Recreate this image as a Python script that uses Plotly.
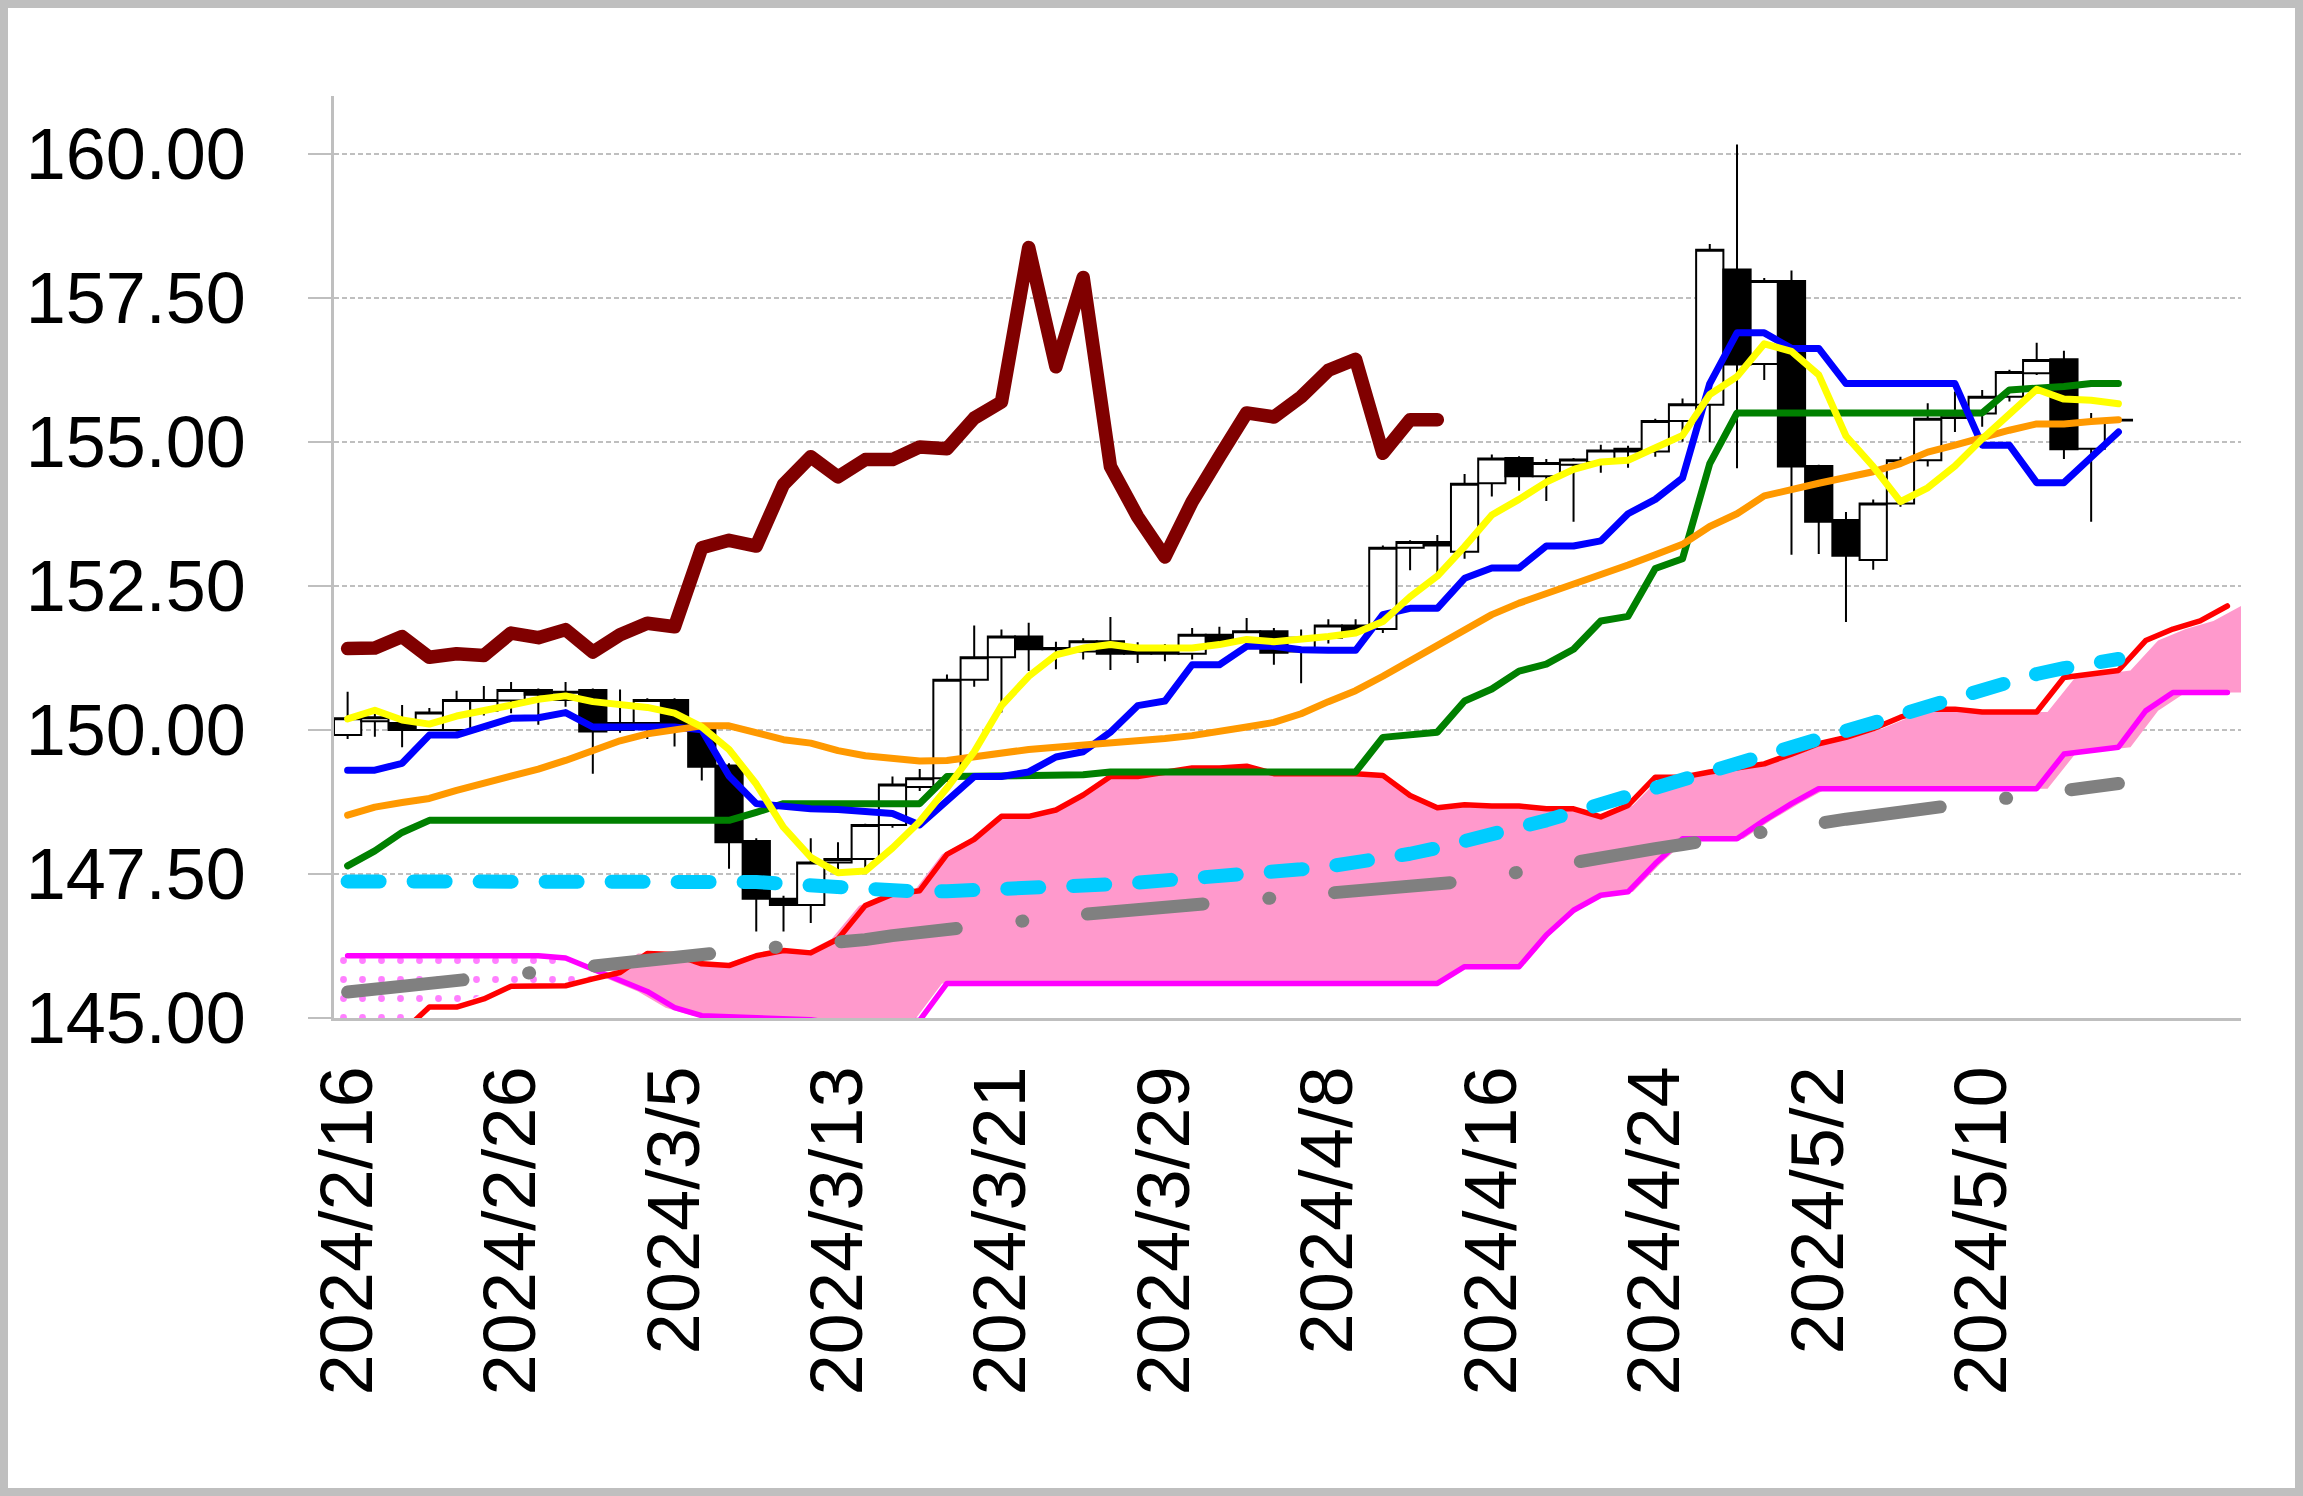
import plotly.graph_objects as go

# ---------------- data ----------------
tick_labels = ["2024/2/16", "2024/2/26", "2024/3/5", "2024/3/13", "2024/3/21", "2024/3/29",
               "2024/4/8", "2024/4/16", "2024/4/24", "2024/5/2", "2024/5/10"]

open_ = [149.91, 150.15, 150.12, 150.00, 150.00, 150.33, 150.51, 150.69, 150.52, 150.69,
         150.00, 150.12, 150.52, 150.09, 149.38, 148.07, 147.07, 146.96, 147.70, 147.76,
         148.35, 149.01, 149.16, 150.87, 151.26, 151.62, 151.40, 151.36, 151.54, 151.42,
         151.32, 151.32, 151.65, 151.53, 151.71, 151.36, 151.60, 151.81, 151.75, 153.16,
         153.26, 153.09, 154.28, 154.72, 154.40, 154.60, 154.65, 154.83, 154.83, 155.36,
         155.64, 157.99, 156.35, 157.79, 154.58, 153.64, 152.95, 153.93, 154.68, 155.41,
         155.49, 155.78, 156.19, 156.43, 154.88, 155.37]
high = [150.66, 150.36, 150.43, 150.38, 150.68, 150.76, 150.83, 150.72, 150.83, 150.72,
        150.70, 150.55, 150.55, 150.12, 149.42, 148.12, 147.12, 148.12, 148.05, 148.37,
        149.19, 149.32, 150.96, 151.81, 151.74, 151.86, 151.53, 151.59, 151.96, 151.52,
        151.49, 151.77, 151.79, 151.94, 151.77, 151.74, 151.92, 151.92, 153.20, 153.29,
        153.38, 154.44, 154.78, 154.75, 154.70, 154.72, 154.95, 154.93, 155.40, 155.75,
        158.43, 160.16, 157.84, 157.97, 154.60, 153.78, 154.00, 154.74, 155.67, 155.87,
        155.90, 156.25, 156.72, 156.58, 155.50, 155.40]
low = [149.84, 149.88, 149.70, 149.98, 149.97, 150.25, 150.29, 150.09, 150.40, 149.24,
       149.95, 149.84, 149.71, 149.12, 147.59, 146.50, 146.50, 146.65, 147.50, 147.60,
       148.30, 148.94, 149.10, 150.75, 150.30, 151.02, 151.05, 151.22, 151.04, 151.16,
       151.19, 151.22, 151.45, 151.48, 151.13, 150.81, 151.50, 151.68, 151.68, 152.77,
       152.71, 152.97, 154.05, 154.15, 153.97, 153.61, 154.46, 154.55, 154.74, 155.00,
       154.99, 154.54, 156.07, 153.04, 153.05, 151.87, 152.78, 153.87, 154.57, 155.17,
       155.26, 155.70, 156.16, 154.70, 153.61, 155.36]
close = [150.20, 150.22, 150.00, 150.30, 150.52, 150.52, 150.69, 150.61, 150.66, 149.97,
         150.12, 150.52, 150.09, 149.36, 148.05, 147.07, 146.96, 147.70, 147.76, 148.35,
         149.05, 149.16, 150.87, 151.26, 151.62, 151.40, 151.42, 151.54, 151.32, 151.32,
         151.35, 151.65, 151.53, 151.71, 151.34, 151.60, 151.81, 151.72, 153.16, 153.26,
         153.20, 154.27, 154.71, 154.40, 154.63, 154.69, 154.85, 154.88, 155.36, 155.65,
         158.33, 156.34, 157.79, 154.57, 153.61, 153.02, 153.93, 154.68, 155.40, 155.47,
         155.78, 156.21, 156.42, 154.87, 155.37, 155.38]

tenkan = [149.30, 149.30, 149.42, 149.91, 149.91, 150.07, 150.20, 150.21, 150.30, 150.05,
          150.05, 150.05, 150.05, 150.00, 149.20, 148.72, 148.67, 148.63, 148.62, 148.57,
          148.55, 148.35, 148.76, 149.19, 149.19, 149.27, 149.53, 149.62, 149.96, 150.42,
          150.50, 151.13, 151.13, 151.45, 151.45, 151.39, 151.38, 151.38, 152.00, 152.11,
          152.11, 152.63, 152.81, 152.81, 153.19, 153.19, 153.28, 153.75, 154.00, 154.37,
          156.01, 156.89, 156.89, 156.62, 156.62, 156.01, 156.01, 156.01, 156.01, 156.01,
          154.94, 154.94, 154.29, 154.29, 154.73, 155.17]
kijun = [147.64, 147.90, 148.22, 148.43, 148.43, 148.43, 148.43, 148.43, 148.43, 148.43,
         148.43, 148.43, 148.43, 148.43, 148.43, 148.57, 148.72, 148.72, 148.72, 148.72,
         148.72, 148.72, 149.19, 149.19, 149.19, 149.19, 149.19, 149.22, 149.27, 149.27,
         149.27, 149.27, 149.27, 149.27, 149.27, 149.27, 149.27, 149.27, 149.87, 149.92,
         149.96, 150.50, 150.71, 151.02, 151.14, 151.40, 151.89, 151.97, 152.80, 152.97,
         154.62, 155.50, 155.50, 155.50, 155.50, 155.50, 155.50, 155.50, 155.50, 155.50,
         155.50, 155.90, 155.92, 155.96, 156.01, 156.01]
ma_short = [150.19, 150.34, 150.17, 150.10, 150.24, 150.32, 150.43, 150.53, 150.59, 150.49,
            150.43, 150.39, 150.29, 150.05, 149.66, 149.06, 148.31, 147.79, 147.52, 147.55,
            147.95, 148.41, 148.99, 149.62, 150.42, 150.93, 151.30, 151.42, 151.48, 151.42,
            151.42, 151.42, 151.48, 151.57, 151.53, 151.56, 151.62, 151.68, 151.88, 152.31,
            152.67, 153.18, 153.73, 154.00, 154.30, 154.52, 154.65, 154.68, 154.89, 155.11,
            155.82, 156.13, 156.70, 156.57, 156.16, 155.10, 154.57, 153.96, 154.20, 154.58,
            155.05, 155.50, 155.91, 155.74, 155.72, 155.66]
ma_mid = [148.52, 148.66, 148.74, 148.81, 148.95, 149.07, 149.18, 149.32, 149.47, 149.64,
          149.81, 149.93, 150.00, 150.07, 150.07, 149.96, 149.83, 149.77, 149.64, 149.55,
          149.50, 149.46, 149.47, 149.53, 149.62, 149.66, 149.70, 149.73, 149.77, 149.80,
          149.85, 149.90, 149.96, 150.05, 150.13, 150.28, 150.49, 150.68, 150.93, 151.19,
          151.45, 151.71, 152.00, 152.20, 152.36, 152.51, 152.70, 152.86, 153.04, 153.22,
          153.53, 153.75, 154.06, 154.18, 154.28, 154.38, 154.48, 154.62, 154.82, 154.94,
          155.08, 155.20, 155.31, 155.31, 155.35, 155.38]
ma_long = [147.37, 147.37, 147.38, 147.38, 147.40, 147.41, 147.42, 147.42, 147.42, 147.42,
           147.42, 147.42, 147.40, 147.38, 147.37, 147.36, 147.33, 147.29, 147.25, 147.22,
           147.21, 147.19, 147.20, 147.21, 147.23, 147.24, 147.26, 147.28, 147.32, 147.35,
           147.38, 147.42, 147.46, 147.50, 147.54, 147.58, 147.63, 147.69, 147.76, 147.85,
           147.95, 148.06, 148.18, 148.30, 148.43, 148.57, 148.71, 148.86, 149.00, 149.12,
           149.27, 149.42, 149.57, 149.72, 149.87, 150.02, 150.16, 150.30, 150.44, 150.58,
           150.72, 150.85, 150.97, 151.07, 151.16, 151.23]
ma_longest = [145.45, 145.50, 145.55, 145.60, 145.65, 145.70, 145.75, 145.80, 145.88, 145.95,
              146.00, 146.05, 146.10, 146.13, 146.17, 146.20, 146.24, 146.27, 146.30, 146.36,
              146.43, 146.49, 146.55, 146.60, 146.65, 146.69, 146.75, 146.80, 146.84, 146.88,
              146.92, 146.96, 146.99, 147.03, 147.06, 147.10, 147.14, 147.19, 147.24, 147.28,
              147.33, 147.37, 147.45, 147.54, 147.62, 147.69, 147.77, 147.86, 147.94, 148.01,
              148.09, 148.18, 148.26, 148.32, 148.38, 148.45, 148.51, 148.57, 148.63, 148.69,
              148.75, 148.82, 148.90, 148.96, 149.02, 149.07]
chikou = [151.41, 151.42, 151.62, 151.26, 151.32, 151.29, 151.68, 151.60, 151.74, 151.35,
          151.65, 151.85, 151.79, 153.16, 153.29, 153.19, 154.26, 154.74, 154.39, 154.69,
          154.69, 154.91, 154.88, 155.41, 155.69, 158.37, 156.30, 157.85, 154.57, 153.70,
          153.00, 153.96, 154.74, 155.50, 155.43, 155.78, 156.24, 156.43, 154.80, 155.38,
          155.38]
senkou_a = [144.30, 144.50, 144.75, 145.19, 145.19, 145.33, 145.55, 145.55, 145.56, 145.68,
            145.79, 146.12, 146.10, 145.94, 145.91, 146.08, 146.17, 146.13, 146.37, 146.95,
            147.15, 147.21, 147.84, 148.10, 148.50, 148.50, 148.61, 148.87, 149.19, 149.19,
            149.27, 149.34, 149.34, 149.37, 149.24, 149.24, 149.24, 149.24, 149.21, 148.86,
            148.65, 148.70, 148.68, 148.68, 148.63, 148.63, 148.49, 148.69, 149.18, 149.18,
            149.27, 149.33, 149.41, 149.58, 149.76, 149.87, 150.02, 150.22, 150.36, 150.36,
            150.31, 150.31, 150.31, 150.91, 150.97, 151.03, 151.55, 151.75, 151.89, 152.15]
senkou_b = [146.08, 146.08, 146.08, 146.08, 146.08, 146.08, 146.08, 146.08, 146.04, 145.85,
            145.66, 145.46, 145.18, 145.04, 145.02, 145.00, 145.00, 144.97, 144.90, 144.90,
            144.92, 144.96, 145.60, 145.60, 145.60, 145.60, 145.60, 145.60, 145.60, 145.60,
            145.60, 145.60, 145.60, 145.60, 145.60, 145.60, 145.60, 145.60, 145.60, 145.60,
            145.60, 145.89, 145.89, 145.89, 146.44, 146.87, 147.13, 147.19, 147.68, 148.11,
            148.11, 148.11, 148.43, 148.72, 148.98, 148.98, 148.98, 148.98, 148.98, 148.98,
            148.98, 148.98, 148.98, 149.58, 149.64, 149.70, 150.33, 150.65, 150.65, 150.65]

n_cat = len(senkou_a)
idx_price = list(range(len(close)))
idx_chikou = list(range(len(chikou)))
idx_cloud = list(range(n_cat))
# the cloud areas are stretched edge-to-edge across the category axis (as in the source chart)
idx_area = [-0.5 + k * n_cat / (n_cat - 1) for k in range(n_cat)]

# ---------------- cloud polygons ----------------
def cloud_polys(xs, a, b):
    polys = []
    top, bot = [], []
    sign = None
    for k in range(len(xs)):
        d = a[k] - b[k]
        s = d >= 0
        if k > 0 and s != sign:
            dp = a[k - 1] - b[k - 1]
            t = dp / (dp - d)
            xc = xs[k - 1] + t * (xs[k] - xs[k - 1])
            yc = a[k - 1] + t * (a[k] - a[k - 1])
            top.append((xc, yc)); bot.append((xc, yc))
            polys.append((sign, top, bot))
            top, bot = [(xc, yc)], [(xc, yc)]
        sign = s
        top.append((xs[k], a[k])); bot.append((xs[k], b[k]))
    polys.append((sign, top, bot))
    return polys

fig = go.Figure()

for sign, top, bot in cloud_polys(idx_area, senkou_a, senkou_b):
    pts = top + bot[::-1]
    px = [p[0] for p in pts] + [pts[0][0]]
    py = [p[1] for p in pts] + [pts[0][1]]
    if sign:
        fig.add_trace(go.Scatter(x=px, y=py, mode="lines", fill="toself",
                                 fillcolor="#FF99CC", line=dict(width=0),
                                 hoverinfo="skip"))
    else:
        fig.add_trace(go.Scatter(x=px, y=py, mode="lines", fill="toself",
                                 fillcolor="white", line=dict(width=0),
                                 fillpattern=dict(shape=".", fgcolor="#FF00FF", bgcolor="white",
                                                  size=19, solidity=0.1),
                                 hoverinfo="skip"))

fig.add_trace(go.Candlestick(
    x=idx_price, open=open_, high=high, low=low, close=close,
    increasing=dict(fillcolor="white", line=dict(color="black", width=2)),
    decreasing=dict(fillcolor="black", line=dict(color="black", width=2)),
    whiskerwidth=0))

def line(x, y, color, width, dash=None):
    fig.add_trace(go.Scatter(x=x, y=y, mode="lines",
                             line=dict(color=color, width=width, dash=dash)))

line(idx_cloud, senkou_b, "#FF00FF", 5.5)
line(idx_cloud, senkou_a, "#FF0000", 5.5)
line(idx_price, kijun, "#008000", 7)
line(idx_price, tenkan, "#0000FF", 7)
line(idx_price, ma_mid, "#FF9900", 7)
line(idx_price, ma_short, "#FFFF00", 7)
line(idx_chikou, chikou, "#800000", 13.5)
line(idx_price, ma_longest, "#808080", 13, "116px,66px,1px,65px")
line(idx_price, ma_long, "#00CCFF", 14, "32px,34px")

# ---------------- layout ----------------
L, R, T, B = 334, 62, 96, 478
W, H = 2303, 1496
pw, ph = W - L - R, H - T - B

fig.update_layout(
    width=W, height=H,
    margin=dict(l=L, r=R, t=T, b=B, pad=0),
    paper_bgcolor="white", plot_bgcolor="white",
    showlegend=False,
    boxgap=0, boxgroupgap=0,
    font=dict(family="Liberation Sans", color="black"),
    xaxis=dict(
        range=[-0.5, n_cat - 0.5],
        tickmode="array",
        tickvals=[6 * k for k in range(len(tick_labels))],
        ticktext=tick_labels,
        tickangle=-90,
        tickfont=dict(size=74, family="Liberation Sans", color="black"),
        ticks="", showgrid=False, zeroline=False,
        showline=True, linecolor="#BFBFBF", linewidth=2.5,
        rangeslider=dict(visible=False),
        ticklabelstandoff=16,
    ),
    yaxis=dict(
        range=[145, 161],
        tickmode="array",
        tickvals=[145, 147.5, 150, 152.5, 155, 157.5, 160],
        tickformat=".2f",
        tickfont=dict(size=72, family="Liberation Sans", color="black"),
        ticks="outside", ticklen=23, tickwidth=2, tickcolor="#BFBFBF",
        showgrid=True, gridcolor="#BFBFBF", gridwidth=1.5, griddash="5px,3px",
        zeroline=False,
        showline=True, linecolor="#BFBFBF", linewidth=2.5,
        ticklabelstandoff=48,
    ),
    shapes=[dict(type="rect", xref="paper", yref="paper",
                 x0=(4 - L) / pw, x1=(W - 4 - L) / pw,
                 y0=-(H - 4 - T - ph) / ph, y1=(ph + T - 4) / ph,
                 line=dict(color="#BFBFBF", width=8), fillcolor="rgba(0,0,0,0)",
                 layer="above")],
)

post = """
document.body.style.margin = '0';
document.body.style.padding = '0';
document.documentElement.style.overflow = 'hidden';
var gd = document.getElementById('{plot_id}');
function rc(){ gd.querySelectorAll('.scatterlayer path.js-line').forEach(function(p){
  p.style.strokeLinecap='round'; p.style.strokeLinejoin='round';}); }
rc(); if(gd.on){gd.on('plotly_afterplot', rc);} setTimeout(rc, 50); setTimeout(rc, 400);
"""
fig.write_html("out.html", post_script=post, config={"displayModeBar": False})
